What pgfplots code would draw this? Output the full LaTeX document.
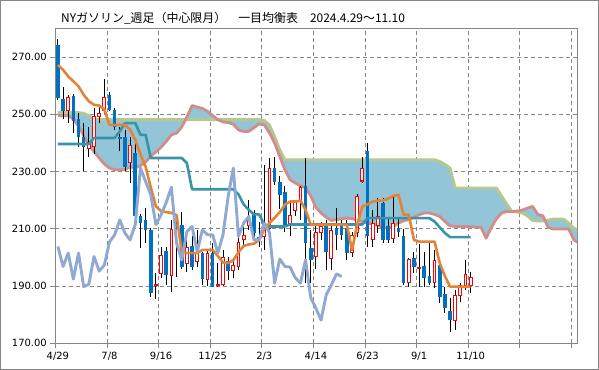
\documentclass[border=0pt]{standalone}
\usepackage{fontspec}
\setmainfont{DejaVu Sans}
\newfontfamily\jpfont{Noto Sans CJK JP}
\usepackage{pgfplots}
\pgfplotsset{compat=1.18}
\usepackage{pgfplotstable}
\usepgfplotslibrary{fillbetween}

\definecolor{cblue}{RGB}{0,112,192}
\definecolor{cred}{RGB}{255,0,0}
\definecolor{tenkan}{RGB}{226,131,56}
\definecolor{kijun}{RGB}{56,148,168}
\definecolor{chikou}{RGB}{143,169,211}
\definecolor{spanA}{RGB}{181,201,142}
\definecolor{spanB}{RGB}{210,140,140}
\definecolor{kumo}{RGB}{146,197,216}
\definecolor{gridc}{RGB}{134,134,134}

\pgfplotsset{
  candle/.style={only marks, mark=*, mark size=0pt, mark options={draw=none, fill=none},
    error bars/.cd, y dir=both, y explicit, error mark=none},
}

\pgfplotstableread{
i o h l c
0 274.3 276.3 255.0 255.7
1 255.4 259.5 248.3 251.0
2 251.1 256.8 246.9 256.0
3 256.2 257.2 243.4 247.5
4 248.3 250.4 238.7 242.0
5 242.2 246.9 230.0 238.5
6 237.9 245.5 235.0 240.3
7 238.5 252.0 236.0 249.5
8 249.0 253.3 247.0 250.5
9 251.1 262.3 250.0 256.0
10 256.8 257.8 251.0 251.6
11 251.6 252.2 244.6 245.5
12 242.2 245.7 237.0 241.5
13 242.2 244.6 230.0 231.7
14 232.9 242.2 226.0 239.3
15 236.4 240.0 213.5 214.3
16 214.3 215.0 203.2 212.0
17 213.1 217.2 205.0 209.6
18 209.6 210.2 186.3 187.7
19 190.1 194.5 185.4 190.6
20 194.1 203.8 192.7 200.9
21 202.1 203.8 190.4 193.9
22 193.5 213.1 188.0 209.9
23 211.5 212.5 193.0 210.5
24 211.4 216.0 196.0 196.6
25 197.7 206.0 195.0 203.8
26 204.0 207.3 195.6 196.8
27 198.5 209.6 196.8 201.5
28 201.7 202.0 190.4 192.4
29 192.1 202.2 190.0 201.5
30 201.7 205.0 189.5 189.8
31 190.1 198.0 189.8 190.6
32 190.4 202.6 190.0 200.3
33 198.8 200.3 192.1 195.2
34 195.4 199.1 192.7 197.3
35 196.5 207.9 195.6 205.4
36 205.9 210.8 203.8 207.9
37 211.0 220.1 209.6 213.1
38 214.9 216.6 206.1 208.5
39 207.0 212.5 203.8 206.1
40 207.0 232.3 202.6 211.5
41 210.0 234.7 209.6 231.2
42 231.2 235.2 225.3 226.5
43 226.5 228.3 217.0 221.9
44 223.0 224.8 209.0 211.4
45 211.7 219.0 207.3 214.9
46 216.3 220.1 214.3 219.2
47 219.2 224.9 213.0 224.5
48 224.8 234.7 191.0 205.0
49 203.2 209.6 191.0 199.1
50 200.3 210.8 196.0 209.0
51 208.5 212.5 206.0 210.8
52 211.0 213.0 195.6 202.0
53 199.5 212.0 195.6 209.6
54 210.2 217.2 202.6 207.9
55 210.8 213.1 206.1 207.9
56 210.2 213.0 199.0 201.5
57 201.5 209.0 200.0 207.9
58 208.5 222.0 207.0 221.3
59 226.5 235.2 225.9 231.2
60 237.0 239.9 203.8 207.3
61 206.1 216.6 203.8 212.0
62 211.0 220.7 208.5 214.3
63 219.0 220.7 205.0 206.1
64 210.8 214.0 205.0 206.1
65 206.4 221.3 205.0 212.0
66 210.2 213.7 207.0 208.7
67 207.3 210.0 190.4 191.0
68 191.2 199.8 189.6 199.4
69 199.7 202.0 194.5 196.8
70 196.1 204.6 189.8 196.6
71 197.0 202.0 189.8 192.9
72 193.5 205.0 190.5 191.0
73 191.2 202.6 189.2 199.1
74 197.4 198.0 184.0 186.0
75 187.2 189.8 180.5 182.2
76 181.3 185.7 174.1 178.1
77 177.9 188.6 174.7 186.9
78 186.6 191.0 184.5 190.4
79 190.0 199.1 188.6 194.2
80 190.1 195.0 187.7 193.3
}\candles

\pgfplotstableread{
i t k
0 267.2 239.6
1 265.5 239.6
2 263.2 239.6
3 261.5 239.6
4 259.7 239.6
5 256.8 239.6
6 254.5 239.6
7 253.3 241.7
8 253.0 241.7
9 251.7 241.7
10 246.3 241.7
11 246.3 241.7
12 246.3 244.0
13 246.3 246.9
14 244.6 246.9
15 241.1 246.9
16 235.9 242.8
17 231.7 242.8
18 224.5 234.7
19 217.8 234.7
20 216.2 234.7
21 215.8 234.7
22 215.5 234.7
23 214.8 234.7
24 202.0 234.7
25 201.5 232.9
26 201.5 223.8
27 201.5 223.8
28 202.6 223.8
29 202.6 223.8
30 202.6 223.8
31 200.5 223.8
32 198.2 223.8
33 198.0 223.8
34 199.0 223.8
35 201.8 222.0
36 204.0 218.5
37 204.5 216.6
38 204.8 215.0
39 206.0 215.0
40 210.0 211.5
41 212.0 210.8
42 213.8 210.8
43 215.8 210.8
44 218.4 210.8
45 219.5 211.5
46 219.5 211.5
47 219.8 211.5
48 216.6 211.5
49 211.4 211.5
50 211.4 211.5
51 211.4 211.5
52 211.4 211.5
53 211.4 211.5
54 211.4 211.5
55 211.4 211.5
56 211.4 211.5
57 202.5 211.5
58 211.4 211.5
59 217.8 211.5
60 218.5 213.7
61 219.5 213.7
62 219.8 213.7
63 219.8 213.7
64 220.5 213.7
65 221.5 213.7
66 221.9 213.7
67 214.9 213.7
68 214.9 213.7
69 206.1 213.7
70 205.5 213.7
71 205.5 213.7
72 205.5 213.7
73 205.5 212.5
74 198.0 210.5
75 193.5 208.5
76 189.8 207.1
77 189.8 207.1
78 189.8 207.1
79 189.8 207.1
80 189.8 207.1
}\lines

\pgfplotstableread{
i a b
0 250.6 249.5
1 250.6 249.5
2 250.6 249.5
3 250.6 248.3
4 250.6 245.9
5 250.3 242.5
6 249.5 239.3
7 248.5 237.0
8 248.1 234.7
9 248.1 232.6
10 248.1 231.2
11 248.1 230.6
12 248.1 230.6
13 248.1 230.6
14 248.1 231.6
15 248.1 231.3
16 248.1 232.0
17 248.1 233.3
18 248.1 235.4
19 248.1 236.8
20 248.1 238.5
21 248.1 240.5
22 248.1 242.8
23 248.1 243.4
24 248.1 245.5
25 248.1 249.0
26 248.1 253.0
27 248.1 252.5
28 248.1 252.0
29 248.1 251.0
30 248.1 249.5
31 248.1 248.1
32 248.1 247.3
33 248.1 247.1
34 248.1 246.5
35 248.1 244.5
36 248.1 244.0
37 248.1 244.0
38 248.1 245.3
39 248.1 246.6
40 247.8 246.3
41 246.3 243.5
42 242.2 240.0
43 237.6 235.2
44 234.1 230.6
45 234.1 227.1
46 234.1 226.0
47 234.1 225.0
48 234.1 224.3
49 234.1 221.5
50 234.1 217.5
51 234.1 215.5
52 234.1 214.0
53 234.1 212.9
54 234.1 213.2
55 234.1 213.5
56 234.1 213.7
57 234.1 213.5
58 234.1 213.1
59 234.1 212.5
60 234.1 212.0
61 234.1 211.6
62 234.1 211.2
63 234.1 210.5
64 234.1 210.2
65 234.1 210.8
66 234.1 212.0
67 234.1 212.8
68 234.1 213.2
69 234.1 214.0
70 234.1 214.9
71 234.1 215.5
72 234.1 215.5
73 234.1 215.0
74 233.5 214.3
75 232.5 212.5
76 231.2 211.0
77 224.2 210.8
78 224.2 210.8
79 224.2 210.8
80 224.2 210.7
81 224.2 210.6
82 224.2 210.5
83 224.2 206.7
84 224.2 210.5
85 224.2 213.5
86 221.4 215.5
87 218.6 216.0
88 216.0 216.0
89 215.8 216.2
90 215.5 216.5
91 214.5 217.2
92 212.9 217.8
93 212.7 215.0
94 212.7 214.5
95 213.0 210.5
96 213.4 209.9
97 213.4 209.9
98 213.4 209.9
99 212.0 209.9
100 210.2 206.1
101 209.5 205.0
}\cloud

\begin{document}
\begin{tikzpicture}
\draw[gridc, line width=0.8bp] (0.4bp,0.4bp) rectangle (598.6bp,369.6bp);
\node[anchor=west, inner sep=0pt, font=\jpfont\fontsize{12}{14}\selectfont] at (61bp,351.7bp)
  {NYガソリン\_週足（中心限月）　一目均衡表　2024.4.29～11.10};
\begin{axis}[
  at={(55.3bp,26.7bp)}, anchor=south west,
  width=521.7bp, height=315bp, scale only axis,
  xmin=-0.5, xmax=100.6, ymin=170, ymax=280,
  xtick={-0.5,9.5,...,99.5},
  xticklabels={4/29,7/8,9/16,11/25,2/3,4/14,6/23,9/1,11/10,{},{}},
  ytick={170,190,...,270},
  xtick pos=bottom, ytick pos=left,
  tick align=outside, major tick length=5bp,
  tick style={gridc, line width=0.75bp},
  axis line style={gridc, line width=0.75bp},
  grid=major,
  major grid style={gridc, line width=0.75bp, dash pattern=on 4bp off 3bp},
  tick label style={font=\fontsize{10}{12}\selectfont, black},
  xticklabel style={xshift=2.6bp},
  /pgf/number format/assume math mode=true,
  yticklabel style={/pgf/number format/.cd, fixed, fixed zerofill, precision=2},
  clip=true,
]
% cloud
\addplot[name path=A, draw=none, mark=none, forget plot] table[x=i, y=a] \cloud;
\addplot[name path=B, draw=none, mark=none, forget plot] table[x=i, y=b] \cloud;
\addplot[kumo, forget plot] fill between[of=A and B];
\addplot[spanA, line width=2.8bp, mark=none, line join=round] table[x=i, y=a] \cloud;
\addplot[spanB, line width=2.8bp, mark=none, line join=round] table[x=i, y=b] \cloud;
% wicks
\addplot[black, candle, error bar style={line width=0.9bp}]
  table[x=i, y expr={(\thisrow{h}+\thisrow{l})/2}, y error expr={(\thisrow{h}-\thisrow{l})/2}] \candles;
% blue (down) bodies
\addplot[cblue, candle, error bar style={line width=3.6bp}]
  table[x=i, y expr={(\thisrow{o}+\thisrow{c})/2},
        y error expr={(\thisrow{o}>\thisrow{c}) ? (\thisrow{o}-\thisrow{c})/2 : 0}] \candles;
% red (up) bodies, hollow
\addplot[cred, candle, error bar style={line width=3.8bp}]
  table[x=i, y expr={(\thisrow{o}+\thisrow{c})/2},
        y error expr={(\thisrow{c}>\thisrow{o}) ? (\thisrow{c}-\thisrow{o})/2 : 0}] \candles;
\addplot[white, candle, error bar style={line width=1.8bp}]
  table[x=i, y expr={(\thisrow{o}+\thisrow{c})/2},
        y error expr={(\thisrow{c}>\thisrow{o}+0.7) ? (\thisrow{c}-\thisrow{o})/2-0.35 : 0}] \candles;
% kijun, tenkan
\addplot[kijun, line width=2.6bp, mark=none, line join=round] table[x=i, y=k] \lines;
\addplot[tenkan, line width=2.6bp, mark=none, line join=round] table[x=i, y=t] \lines;
% chikou (close shifted back 25 weeks)
\addplot[chikou, line width=2.9bp, mark=none, line join=round,
  skip coords between index={0}{25}] table[x expr={\thisrow{i}-25}, y=c] \candles;
\end{axis}
\end{tikzpicture}
\end{document}
